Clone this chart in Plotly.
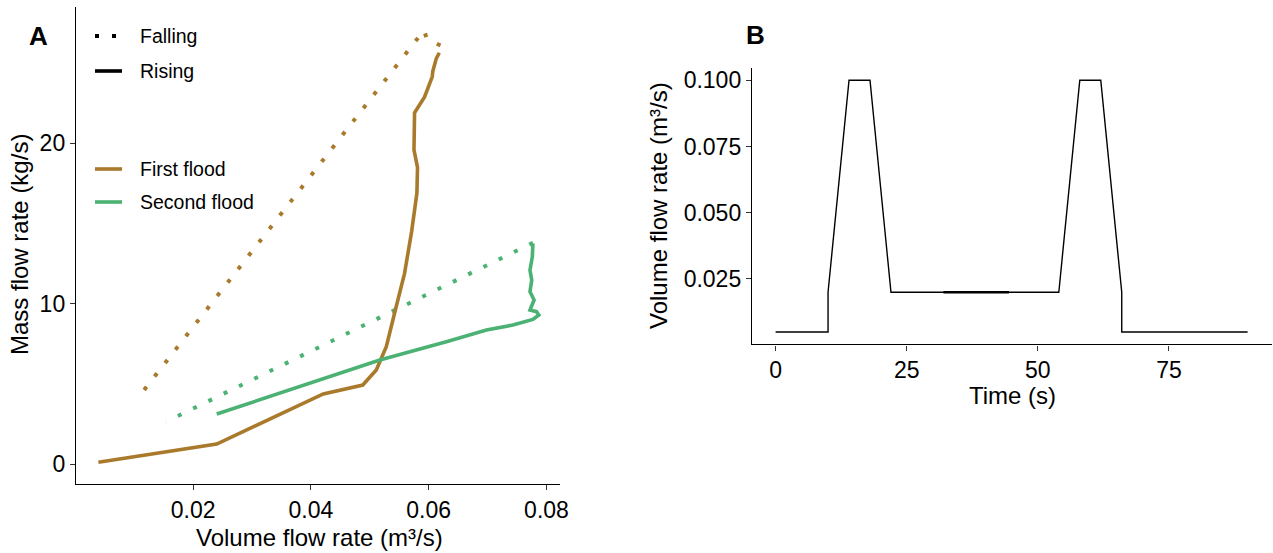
import plotly.graph_objects as go

# ---------------- data ----------------
# Panel A: mass flow rate against volume flow rate for two floods
first_rise_q = [0.0039, 0.0240, 0.0421, 0.0488, 0.0511, 0.0528, 0.0542, 0.0559, 0.0571,
                0.0580, 0.0581, 0.0575, 0.0576, 0.0593, 0.0606, 0.0607, 0.0613, 0.0618]
first_rise_m = [0.12, 1.26, 4.38, 4.94, 5.88, 7.33, 9.41, 11.9, 14.5,
                16.9, 18.5, 19.6, 21.9, 22.9, 24.15, 24.5, 25.3, 25.65]
first_fall_q = [0.0620, 0.0597, 0.0592, 0.0116]
first_fall_m = [26.1, 26.5, 27.05, 4.6]

second_rise_q = [0.0240, 0.0347, 0.0517, 0.0630, 0.0698, 0.0743, 0.0777, 0.0787, 0.0783,
                 0.0772, 0.0779, 0.0772, 0.0775, 0.0772, 0.0776, 0.0777]
second_rise_m = [3.13, 4.42, 6.50, 7.64, 8.37, 8.68, 9.03, 9.30, 9.51,
                 9.61, 10.24, 10.75, 11.48, 12.1, 12.93, 13.77]
second_fall_q = [0.0777, 0.0154]
second_fall_m = [13.8, 2.65]

# Panel B: imposed inflow hydrograph
time_s = [0, 10, 10, 14, 18, 22, 54, 58, 62, 66, 66, 90]
inflow = [0.005, 0.005, 0.02, 0.1, 0.1, 0.02, 0.02, 0.1, 0.1, 0.02, 0.005, 0.005]
overlap_t = [32, 44.5]
overlap_q = [0.02, 0.02]

x_ticks_a = [0.02, 0.04, 0.06, 0.08]
y_ticks_a = [0, 10, 20]
x_ticks_b = [0, 25, 50, 75]
y_ticks_b = [0.025, 0.05, 0.075, 0.1]
y_ticklabels_b = ["0.025", "0.050", "0.075", "0.100"]

BROWN = "#A97A2C"
GREEN = "#4BB274"
FONT = "Liberation Sans, Arial, Helvetica, sans-serif"

W, H = 1273, 553


def px(x):
    return x / W


def py(y):
    return 1 - y / H


DOT = "4px,13px"

fig = go.Figure()

# Panel A traces
fig.add_trace(go.Scatter(x=first_fall_q, y=first_fall_m, mode="lines",
                         line=dict(color=BROWN, width=4, dash=DOT), xaxis="x", yaxis="y"))
fig.add_trace(go.Scatter(x=second_fall_q, y=second_fall_m, mode="lines",
                         line=dict(color=GREEN, width=4, dash=DOT), xaxis="x", yaxis="y"))
fig.add_trace(go.Scatter(x=first_rise_q, y=first_rise_m, mode="lines",
                         line=dict(color=BROWN, width=3.6), xaxis="x", yaxis="y"))
fig.add_trace(go.Scatter(x=second_rise_q, y=second_rise_m, mode="lines",
                         line=dict(color=GREEN, width=3.6), xaxis="x", yaxis="y"))

# Panel B traces
fig.add_trace(go.Scatter(x=time_s, y=inflow, mode="lines",
                         line=dict(color="black", width=1.4), xaxis="x2", yaxis="y2"))
fig.add_trace(go.Scatter(x=overlap_t, y=overlap_q, mode="lines",
                         line=dict(color="black", width=2.4), xaxis="x2", yaxis="y2"))

axis_common = dict(showline=True, linecolor="black", linewidth=1.4, showgrid=False,
                   zeroline=False, ticks="outside", ticklen=5, tickwidth=1.2, automargin=False,
                   tickcolor="#333333", tickfont=dict(family=FONT, size=23, color="black"))

fig.update_layout(
    width=W, height=H,
    margin=dict(l=0, r=0, t=0, b=0, pad=0),
    paper_bgcolor="white", plot_bgcolor="white",
    showlegend=False,
    xaxis=dict(domain=[px(76), px(560)], range=[0.0001, 0.0823], anchor="y",
               tickvals=x_ticks_a, ticktext=[f"{v:.2f}" for v in x_ticks_a], **axis_common),
    yaxis=dict(domain=[py(484), py(7)], range=[-1.23, 28.5], anchor="x",
               tickvals=y_ticks_a, **axis_common),
    xaxis2=dict(domain=[px(752), px(1272)], range=[-4.5, 94.65], anchor="y2",
                tickvals=x_ticks_b, **axis_common),
    yaxis2=dict(domain=[py(344.3), py(68.3)], range=[0.00034, 0.1045], anchor="x2",
                tickvals=y_ticks_b, ticktext=y_ticklabels_b, **axis_common),
)

annotations = []
shapes = []


def label(text, x, y, size, xanchor="center", yanchor="middle", angle=0, weight="normal"):
    annotations.append(dict(
        text=text, x=px(x), y=py(y), xref="paper", yref="paper",
        showarrow=False, xanchor=xanchor, yanchor=yanchor, textangle=angle,
        font=dict(family=FONT, size=size, color="black", weight=weight)))


# panel tags
label("A", 38, 36, 26, weight="bold")
label("B", 755, 35, 26, weight="bold")

# axis titles
label("Volume flow rate (m³/s)", 319, 537, 24)
label("Mass flow rate (kg/s)", 20, 245, 24, angle=-90)
label("Time (s)", 1012, 396, 24)
label("Volume flow rate (m³/s)", 658, 206, 24, angle=-90)

# legend for panel A: line type (falling / rising limb) and colour (flood)
legend_rows = [
    ("Falling", 36, "black", DOT, 4),
    ("Rising", 71, "black", "solid", 3.6),
    ("First flood", 169, BROWN, "solid", 3.6),
    ("Second flood", 202, GREEN, "solid", 3.6),
]
for text, y, color, dash, width in legend_rows:
    shapes.append(dict(type="line", xref="paper", yref="paper",
                       x0=px(95), x1=px(122), y0=py(y), y1=py(y),
                       line=dict(color=color, width=width, dash=dash)))
    label(text, 138, y, 19.5, xanchor="left")

fig.update_layout(annotations=annotations, shapes=shapes)

fig.write_html("out.html")
